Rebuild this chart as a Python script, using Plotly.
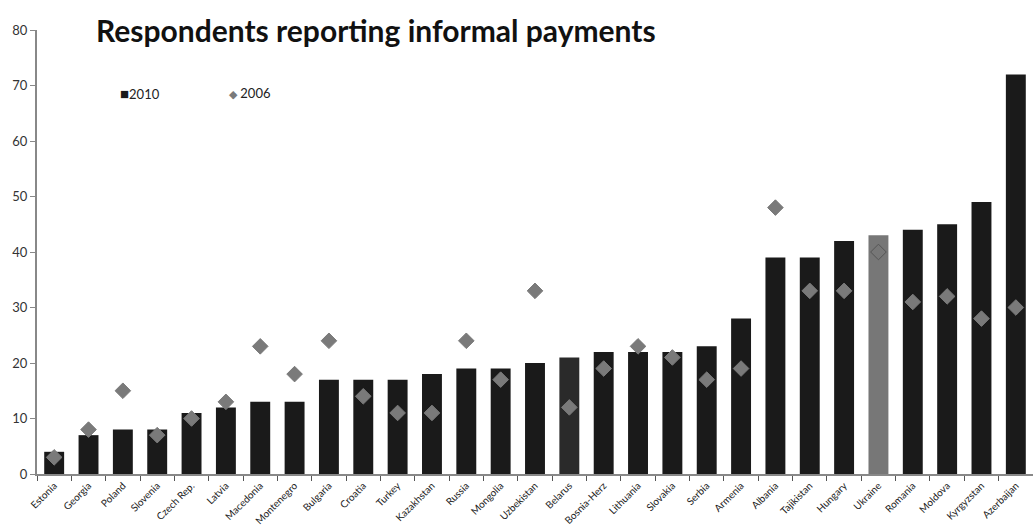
import plotly.graph_objects as go

countries = ["Estonia", "Georgia", "Poland", "Slovenia", "Czech Rep.", "Latvia", "Macedonia",
             "Montenegro", "Bulgaria", "Croatia", "Turkey", "Kazakhstan", "Russia", "Mongolia",
             "Uzbekistan", "Belarus", "Bosnia-Herz", "Lithuania", "Slovakia", "Serbia", "Armenia",
             "Albania", "Tajikistan", "Hungary", "Ukraine", "Romania", "Moldova", "Kyrgyzstan",
             "Azerbaijan"]
y2010 = [4, 7, 8, 8, 11, 12, 13, 13, 17, 17, 17, 18, 19, 19, 20, 21, 22, 22, 22, 23, 28,
         39, 39, 42, 43, 44, 45, 49, 72]
y2006 = [3, 8, 15, 7, 10, 13, 23, 18, 24, 14, 11, 11, 24, 17, 33, 12, 19, 23, 21, 17, 19,
         48, 33, 33, 40, 31, 32, 28, 30]

highlight = "Ukraine"
bar_colors = ["#777777" if c == highlight else ("#2a2a2a" if c == "Belarus" else "#1a1a1a")
              for c in countries]
dia_symbols = ["diamond-open" if c == highlight else "diamond" for c in countries]
dia_colors = ["#555555" if c == highlight else "#7a7a7a" for c in countries]

fig = go.Figure()
fig.add_trace(go.Bar(
    x=countries, y=y2010, name="2010", showlegend=False,
    marker=dict(color=bar_colors, line=dict(width=0)),
))
fig.add_trace(go.Scatter(
    x=countries, y=y2006, name="2006", mode="markers", showlegend=False,
    marker=dict(symbol=dia_symbols, size=12, color=dia_colors,
                line=dict(width=1, color=dia_colors)),
))

# legend drawn as text keys
legend_items = [
    dict(text="<span style='color:#1a1a1a;font-size:15px'>■</span>2010", x=0.081),
    dict(text="<span style='color:#7a7a7a;font-size:11px'>◆</span> 2006", x=0.191),
]
annotations = [dict(text="<b>Respondents reporting informal payments</b>",
                    xref="paper", yref="paper", x=0.057, y=1.0, xanchor="left",
                    yanchor="middle", showarrow=False,
                    font=dict(size=30, family="Lato, sans-serif", color="#111111"))]
for it in legend_items:
    annotations.append(dict(text=it["text"], xref="paper", yref="paper", x=it["x"],
                            y=0.858, xanchor="left", yanchor="middle", showarrow=False,
                            font=dict(size=13, family="Lato, sans-serif", color="#222222")))

fig.update_layout(
    width=1033, height=529,
    margin=dict(l=37, r=0, t=30, b=55),
    paper_bgcolor="white", plot_bgcolor="white",
    font=dict(family="Lato, sans-serif", color="#333333"),
    bargap=0.42,
    showlegend=False,
    annotations=annotations,
)
fig.update_yaxes(range=[0, 80], dtick=10, showgrid=False, zeroline=False,
                 showline=True, linecolor="#888888", linewidth=2,
                 ticks="outside", ticklen=5, tickcolor="#888888",
                 tickfont=dict(size=13, color="#333333"))
fig.update_xaxes(showgrid=False, showline=True, linecolor="#888888", linewidth=2,
                 ticks="outside", ticklen=5, tickcolor="#555555", tickson="boundaries",
                 tickangle=-45, tickfont=dict(size=10, color="#222222"),
                 range=[-0.5, len(countries) - 0.5])

fig.write_html("out.html")
